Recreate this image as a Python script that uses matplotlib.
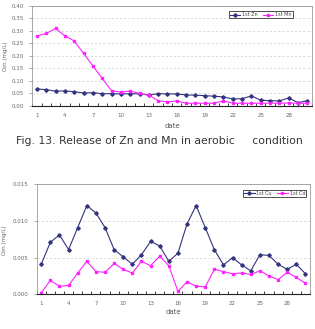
import matplotlib
matplotlib.use('Agg')
import matplotlib.pyplot as plt
from matplotlib.ticker import MultipleLocator, FixedLocator

# jours de l'essai
days = list(range(1, 31))
xtick_days = [1, 4, 7, 10, 13, 16, 19, 22, 25, 28]

# Zn / Mn (mg/L)
zn = [0.068, 0.065, 0.059, 0.060, 0.057, 0.052, 0.053, 0.049, 0.049, 0.048,
      0.049, 0.048, 0.044, 0.049, 0.048, 0.048, 0.044, 0.043, 0.041, 0.039,
      0.036, 0.028, 0.029, 0.040, 0.023, 0.021, 0.020, 0.032, 0.013, 0.021]
mn = [0.280, 0.290, 0.310, 0.280, 0.260, 0.210, 0.160, 0.110, 0.061, 0.055,
      0.060, 0.050, 0.043, 0.021, 0.016, 0.020, 0.011, 0.011, 0.011, 0.011,
      0.020, 0.011, 0.011, 0.011, 0.011, 0.011, 0.011, 0.012, 0.011, 0.011]

# Cu / Cd (mg/L)
cu = [0.0041, 0.0071, 0.0081, 0.0061, 0.0091, 0.0121, 0.0111, 0.0091, 0.0061, 0.0051,
      0.0041, 0.0054, 0.0072, 0.0066, 0.0045, 0.0056, 0.0096, 0.0121, 0.0091, 0.0061,
      0.0040, 0.0050, 0.0040, 0.0032, 0.0054, 0.0053, 0.0041, 0.0034, 0.0041, 0.0028]
cd = [0.0002, 0.0019, 0.0011, 0.0012, 0.0029, 0.0045, 0.0031, 0.0030, 0.0042, 0.0034,
      0.0029, 0.0045, 0.0039, 0.0052, 0.0039, 0.0004, 0.0017, 0.0011, 0.0010, 0.0034,
      0.0031, 0.0028, 0.0029, 0.0027, 0.0032, 0.0025, 0.0020, 0.0030, 0.0023, 0.0015]

BLUE = '#33337F'
PINK = '#FF22FF'
GREY = '#666666'


def style_axes(ax, ymax, ystep, fmt):
    ax.set_xlim(0.5, 30.5)
    ax.set_ylim(0, ymax)
    ax.xaxis.set_major_locator(FixedLocator(xtick_days))
    ax.xaxis.set_minor_locator(FixedLocator([d + 0.5 for d in range(0, 31)]))
    ax.yaxis.set_major_locator(MultipleLocator(ystep))
    ax.yaxis.set_major_formatter(plt.FuncFormatter(lambda v, p: format(v, fmt)))
    ax.tick_params(axis='x', which='major', length=0, labelsize=4, labelcolor=GREY, pad=5)
    ax.tick_params(axis='x', which='minor', length=2, width=0.6, direction='in', color='#222222')
    ax.tick_params(axis='y', length=2, width=0.5, labelsize=4, labelcolor=GREY, color='#888888', pad=4)
    ax.grid(True, axis='y', linestyle=(0, (3, 3)), color='#CCCCCC', linewidth=0.5)
    for s in ax.spines.values():
        s.set_color('#999999')
        s.set_linewidth(0.6)
    ax.spines['bottom'].set_color('#222222')
    ax.spines['bottom'].set_linewidth(0.8)
    ax.set_xlabel('date', fontsize=5, color='#555555')
    ax.set_ylabel('Con.(mg/L)', fontsize=4, color=GREY)


fig = plt.figure(figsize=(3.15, 3.29), dpi=100)

# graphique du haut : Zn, Mn
ax1 = fig.add_axes([0.1025, 0.678, 0.888, 0.304])
ax1.plot(days, zn, color=BLUE, linewidth=0.8, marker='D', markersize=1.8, label='1st Zn')
ax1.plot(days, mn, color=PINK, linewidth=0.8, marker='s', markersize=1.8, label='1st Mn')
style_axes(ax1, 0.40, 0.05, '.2f')
ax1.xaxis.set_label_coords(0.5, -0.17)
ax1.yaxis.set_label_coords(-0.087, 0.5)
ax1.legend(loc='upper right', bbox_to_anchor=(0.94, 0.97), ncol=2, fontsize=3.5,
           frameon=True, fancybox=False, edgecolor='#333333', framealpha=1,
           handlelength=2.2, handletextpad=0.4, columnspacing=1.0,
           borderpad=0.2, labelcolor='#444444').get_frame().set_linewidth(0.6)

# graphique du bas : Cu, Cd
ax2 = fig.add_axes([0.1165, 0.1055, 0.8676, 0.3343])
ax2.plot(days, cu, color=BLUE, linewidth=0.8, marker='D', markersize=1.8, label='1st Cu')
ax2.plot(days, cd, color=PINK, linewidth=0.8, marker='s', markersize=1.8, label='1st Cd')
style_axes(ax2, 0.015, 0.005, '.3f')
ax2.xaxis.set_label_coords(0.5, -0.13)
ax2.yaxis.set_label_coords(-0.109, 0.5)
ax2.legend(loc='upper right', bbox_to_anchor=(0.995, 0.97), ncol=2, fontsize=3.5,
           frameon=True, fancybox=False, edgecolor='#333333', framealpha=1,
           handlelength=2.2, handletextpad=0.4, columnspacing=1.0,
           borderpad=0.2, labelcolor='#444444').get_frame().set_linewidth(0.6)

# légende de la figure
fig.text(0.505, 0.571, 'Fig. 13. Release of Zn and Mn in aerobic     condition',
         ha='center', va='center', fontsize=7.8, color='#333333')

fig.savefig('out.png', dpi=100, facecolor='white')
